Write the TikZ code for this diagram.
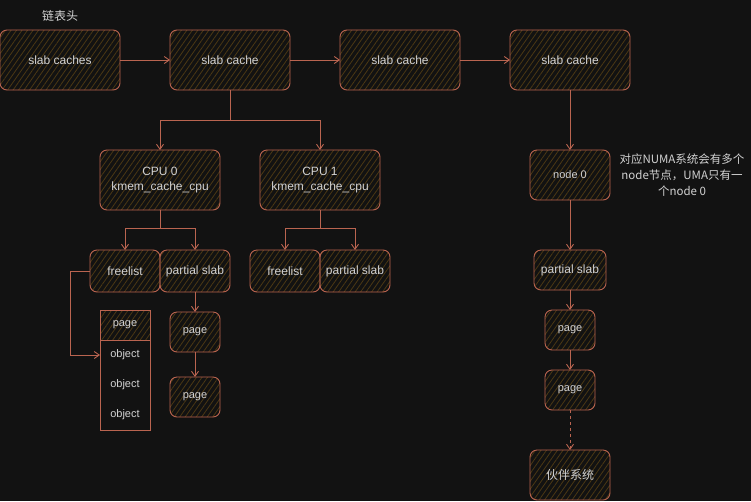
\documentclass[tikz,border=0pt]{standalone}
\usepackage{fontspec}
\setmainfont{Liberation Sans}
\newfontfamily\cjk{Noto Sans CJK SC}
\usetikzlibrary{arrows.meta, positioning, patterns.meta}

\definecolor{bgdark}{HTML}{121212}
\definecolor{edge}{HTML}{BA6450}
\definecolor{hatch}{HTML}{4B3814}
\definecolor{ink}{HTML}{D2D2D2}

\begin{document}
\begin{tikzpicture}[
  x=1pt, y=-1pt,
  node distance=50pt,
  cell/.style={draw=edge, line width=0.9pt, rounded corners=7pt, text=ink, outer sep=0pt,
               align=center, font=\fontsize{12}{15}\selectfont},
  hatched/.style={cell, pattern={Lines[angle=55,distance=4.5pt,line width=0.8pt]},
                  pattern color=hatch},
  wide/.style={hatched, minimum width=120pt, minimum height=60pt},
  small/.style={hatched, minimum width=70pt, minimum height=42pt},
  page/.style={hatched, minimum width=50pt, minimum height=40pt, font=\fontsize{11}{13}\selectfont},
  plain/.style={text=ink, minimum width=50pt, minimum height=30pt, inner sep=0pt, outer sep=0pt,
                font=\fontsize{11}{13}\selectfont},
  line/.style={draw=edge, line width=0.9pt},
  link/.style={line, -{Straight Barb[length=5pt, width=7pt]}}
]
\fill[bgdark] (0,0) rectangle (751,501);
\useasboundingbox (0,0) rectangle (751,501);

% list of caches
\node[wide] (caches) at (60,60) {slab caches};
\node[text=ink, font=\cjk\fontsize{12}{14}\selectfont, above=5pt of caches] (head) {链表头};
\node[wide, right=of caches] (cache1) {slab cache};
\node[wide, right=of cache1] (cache2) {slab cache};
\node[wide, right=of cache2] (cache3) {slab cache};

% per cpu part
\node[wide, below=60pt of cache1, xshift=-70pt] (cpu0) {CPU 0\\kmem\_cache\_cpu};
\node[wide, right=40pt of cpu0] (cpu1) {CPU 1\\kmem\_cache\_cpu};
\node[small, below=40pt of cpu0, xshift=-35pt] (free0) {freelist};
\node[small, right=0pt of free0] (part0) {partial slab};
\node[small, below=40pt of cpu1, xshift=-35pt] (free1) {freelist};
\node[small, right=0pt of free1] (part1) {partial slab};

\node[hatched, rounded corners=0pt, minimum width=50pt, minimum height=30pt,
      font=\fontsize{11}{13}\selectfont, below=18pt of free0] (pghead) {page};
\node[plain, below=0pt of pghead] (obj1) {object};
\node[plain, below=0pt of obj1] (obj2) {object};
\node[plain, below=0pt of obj2] (obj3) {object};
\draw[line] (pghead.north west) rectangle (obj3.south east);

\node[page, below=20pt of part0] (pg1) {page};
\node[page, below=25pt of pg1] (pg2) {page};

% node part
\node[hatched, minimum width=80pt, minimum height=50pt, font=\fontsize{11}{13}\selectfont,
      below=60pt of cache3] (node0) {node 0};
\node[text=ink, align=center, font=\cjk\fontsize{11.5}{16}\selectfont, right=6pt of node0]
  (note) {对应NUMA系统会有多个\\node节点，UMA只有一\\个node 0};
\node[hatched, minimum width=72pt, minimum height=40pt, below=50pt of node0] (part2) {partial slab};
\node[page, below=20pt of part2] (pg3) {page};
\node[page, below=20pt of pg3] (pg4) {page};
\node[hatched, minimum width=80pt, minimum height=50pt, font=\cjk\fontsize{12}{14}\selectfont,
      below=40pt of pg4] (buddy) {伙伴系统};

\draw[link] (caches) -- (cache1);
\draw[link] (cache1) -- (cache2);
\draw[link] (cache2) -- (cache3);

\draw[line] (cache1.south) -- ++(0,-30pt) coordinate (split1);
\draw[link] (split1) -| (cpu0.north);
\draw[link] (split1) -| (cpu1.north);
\draw[line] (cpu0.south) -- ++(0,-18pt) coordinate (split2);
\draw[link] (split2) -| (free0.north);
\draw[link] (split2) -| (part0.north);
\draw[line] (cpu1.south) -- ++(0,-18pt) coordinate (split3);
\draw[link] (split3) -| (free1.north);
\draw[link] (split3) -| (part1.north);

\draw[link] (free0.west) -- ++(-20pt,0) |- (obj1.west);
\draw[link] (part0) -- (pg1);
\draw[link] (pg1) -- (pg2);

\draw[link] (cache3) -- (node0);
\draw[link] (node0) -- (part2);
\draw[link] (part2) -- (pg3);
\draw[link] (pg3) -- (pg4);
\draw[link, dashed] (pg4) -- (buddy);
\end{tikzpicture}
\end{document}
